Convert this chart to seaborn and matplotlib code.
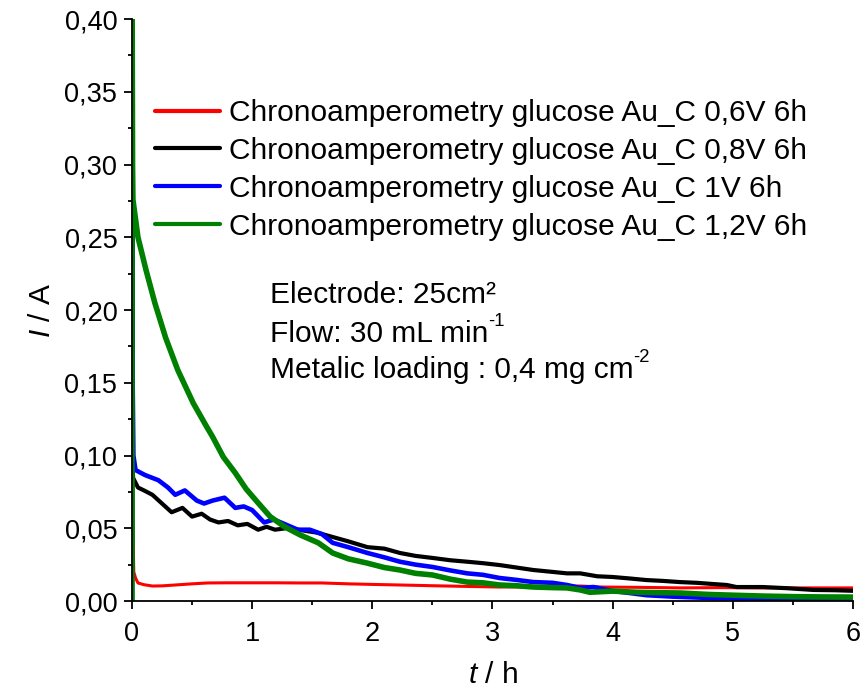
import numpy as np
import pandas as pd
import matplotlib
matplotlib.use("Agg")
import matplotlib.pyplot as plt
import seaborn as sns
from matplotlib.ticker import MultipleLocator, FuncFormatter

# ---- data ----
labels = [
    "Chronoamperometry glucose Au_C 0,6V 6h",
    "Chronoamperometry glucose Au_C 0,8V 6h",
    "Chronoamperometry glucose Au_C 1V 6h",
    "Chronoamperometry glucose Au_C 1,2V 6h",
]
colors = ["#ff0000", "#000000", "#0000ff", "#008000"]

t_red = [0.0, 0.003, 0.008, 0.015, 0.03, 0.05, 0.1, 0.17, 0.25, 0.36, 0.5, 0.63, 0.8, 1.0, 1.2, 1.4,
         1.58, 1.8, 2.0, 2.23, 2.5, 2.8, 3.06, 3.4, 3.73, 3.9, 4.2, 4.56, 4.9, 5.2, 5.6, 6.0]
i_red = [0.0, 0.09, 0.05, 0.02, 0.0158, 0.0124, 0.0112, 0.0103, 0.0104, 0.011, 0.0118, 0.0124, 0.0125, 0.0125,
         0.0125, 0.0124, 0.0124, 0.0118, 0.0114, 0.011, 0.0105, 0.01, 0.0096, 0.0098, 0.0103, 0.0096, 0.0094, 0.009,
         0.0092, 0.009, 0.009, 0.009]

t_black = [0.0, 0.003, 0.01, 0.05, 0.1, 0.17, 0.25, 0.33, 0.42, 0.5, 0.58, 0.65, 0.72, 0.8, 0.88, 0.96, 1.05,
           1.12, 1.19, 1.28, 1.38, 1.54, 1.67, 1.8, 1.96, 2.1, 2.23, 2.36, 2.5, 2.65, 2.79, 2.92, 3.06, 3.2, 3.34,
           3.5, 3.62, 3.73, 3.87, 4.0, 4.14, 4.28, 4.42, 4.56, 4.7, 4.83, 4.95, 5.03, 5.25, 5.45, 5.67, 5.85, 6.0]
i_black = [0.0, 0.092, 0.0845, 0.078, 0.076, 0.073, 0.067, 0.061, 0.064, 0.058, 0.060, 0.056, 0.054, 0.055,
           0.052, 0.053, 0.049, 0.051, 0.049, 0.050, 0.049, 0.047, 0.044, 0.041, 0.037, 0.036, 0.033, 0.031,
           0.0296, 0.028, 0.027, 0.026, 0.0247, 0.023, 0.0213, 0.020, 0.019, 0.019, 0.017, 0.0165, 0.0155,
           0.0144, 0.0138, 0.013, 0.0125, 0.0117, 0.011, 0.0096, 0.0096, 0.0088, 0.0076, 0.0074, 0.007]

t_blue = [0.0, 0.002, 0.006, 0.012, 0.03, 0.108, 0.22, 0.3, 0.36, 0.44, 0.54, 0.6, 0.67, 0.77, 0.86, 0.93, 1.0,
          1.1, 1.18, 1.25, 1.38, 1.48, 1.58, 1.67, 1.8, 1.96, 2.1, 2.23, 2.36, 2.5, 2.65, 2.79, 2.92, 3.06, 3.2,
          3.34, 3.5, 3.62, 3.73, 3.84, 4.0, 4.14, 4.28, 4.5, 4.83, 5.1, 5.4, 5.7, 6.0]
i_blue = [0.0, 0.267, 0.15, 0.1, 0.09, 0.0866, 0.083, 0.078, 0.073, 0.076, 0.069, 0.067, 0.069, 0.071, 0.064,
          0.065, 0.0625, 0.054, 0.056, 0.0536, 0.049, 0.049, 0.046, 0.040, 0.037, 0.033, 0.030, 0.027, 0.025,
          0.0234, 0.021, 0.019, 0.018, 0.0158, 0.0145, 0.013, 0.0125, 0.011, 0.009, 0.0096, 0.0069, 0.0055,
          0.004, 0.003, 0.002, 0.0016, 0.0014, 0.001, 0.0007]

t_green = [0.0, 0.002, 0.005, 0.008, 0.05, 0.117, 0.19, 0.28, 0.38, 0.51, 0.62, 0.67, 0.76,
           0.86, 0.95, 1.05, 1.15, 1.27, 1.4, 1.55, 1.67, 1.8, 1.96, 2.1, 2.23, 2.36, 2.5, 2.65, 2.79, 2.92,
           3.06, 3.2, 3.34, 3.5, 3.62, 3.73, 3.81, 4.0, 4.2, 4.4, 4.56, 4.8, 5.0, 5.25, 5.5, 5.75, 6.0]
i_green = [0.0, 0.40, 0.30, 0.276, 0.250, 0.2275, 0.205, 0.181, 0.159, 0.136, 0.120, 0.113, 0.099,
           0.088, 0.077, 0.0674, 0.058, 0.051, 0.0454, 0.040, 0.033, 0.029, 0.026, 0.023, 0.0213,
           0.019, 0.0179, 0.015, 0.013, 0.0125, 0.011, 0.0105, 0.0096, 0.0092, 0.009, 0.0076, 0.006, 0.0068,
           0.006, 0.0057, 0.0055, 0.0045, 0.004, 0.0034, 0.003, 0.0028, 0.0027]

x_ticks = [0, 1, 2, 3, 4, 5, 6]
y_ticks = [0.00, 0.05, 0.10, 0.15, 0.20, 0.25, 0.30, 0.35, 0.40]

series_t = [t_red, t_black, t_blue, t_green]
series_i = [i_red, i_black, i_blue, i_green]
widths = [2.2, 3.0, 3.3, 4.0]

frames = []
for lab, tt, ii in zip(labels, series_t, series_i):
    frames.append(pd.DataFrame({"t": tt, "I": ii, "series": lab}))
df = pd.concat(frames, ignore_index=True)

# ---- style ----
sns.set_style("ticks")
plt.rcParams["font.family"] = ["Liberation Sans", "DejaVu Sans"]
plt.rcParams["mathtext.fontset"] = "custom"
plt.rcParams["mathtext.rm"] = "Liberation Sans"
plt.rcParams["mathtext.it"] = "Liberation Sans:italic"
for k in ["text.color", "axes.labelcolor", "xtick.color", "ytick.color", "axes.edgecolor"]:
    plt.rcParams[k] = "black"

FS = 21.5

fig = plt.figure(figsize=(8.67, 6.92), dpi=100)
ax = fig.add_axes([0.1522, 0.1315, 0.8317, 0.841])

for lab, col, lw in zip(labels, colors, widths):
    sub = df[df["series"] == lab]
    sns.lineplot(data=sub, x="t", y="I", color=col, lw=lw, ax=ax, label=lab,
                 sort=False, estimator=None)

ax.set_xlim(0, 6)
ax.set_ylim(0, 0.40)
ax.set_xticks(x_ticks)
ax.set_yticks(y_ticks)
ax.xaxis.set_minor_locator(MultipleLocator(0.5))
ax.yaxis.set_minor_locator(MultipleLocator(0.025))
ax.yaxis.set_major_formatter(FuncFormatter(lambda v, p: f"{v:.2f}".replace(".", ",")))
ax.xaxis.set_major_formatter(FuncFormatter(lambda v, p: f"{v:g}"))
ax.tick_params(axis="both", which="major", direction="out", length=5.5, width=1.3,
               labelsize=19.5, colors="black")
ax.tick_params(axis="x", which="major", pad=9)
ax.tick_params(axis="y", which="major", pad=5)
ax.tick_params(axis="both", which="minor", direction="out", length=3.2, width=1.3)
for s in ["top", "right"]:
    ax.spines[s].set_visible(False)
for s in ["left", "bottom"]:
    ax.spines[s].set_linewidth(1.3)

ax.set_xlabel("$\\it{t}$ / h", fontsize=FS, labelpad=10)
ax.set_ylabel("$\\it{I}$ / A", fontsize=FS, labelpad=6)

leg = ax.legend(loc="upper left", bbox_to_anchor=(0.015, 0.883), frameon=False,
                fontsize=FS, handlelength=2.17, handletextpad=0.33, labelspacing=0.33,
                borderaxespad=0)
for h in leg.get_lines():
    h.set_linewidth(3.0)

t1 = ax.text(0.191, 0.512, "Electrode: 25cm²", transform=ax.transAxes, fontsize=FS, va="baseline")
t2 = ax.text(0.191, 0.445, "Flow: 30 mL min", transform=ax.transAxes, fontsize=FS, va="baseline")
t3 = ax.text(0.191, 0.383, "Metalic loading : 0,4 mg cm", transform=ax.transAxes, fontsize=FS, va="baseline")
ax.annotate("-1", xy=(1.0, 0.66), xycoords=t2, fontsize=FS * 0.62, va="bottom", ha="left")
ax.annotate("-2", xy=(1.0, 0.66), xycoords=t3, fontsize=FS * 0.62, va="bottom", ha="left")

fig.savefig("out.png", dpi=100)
